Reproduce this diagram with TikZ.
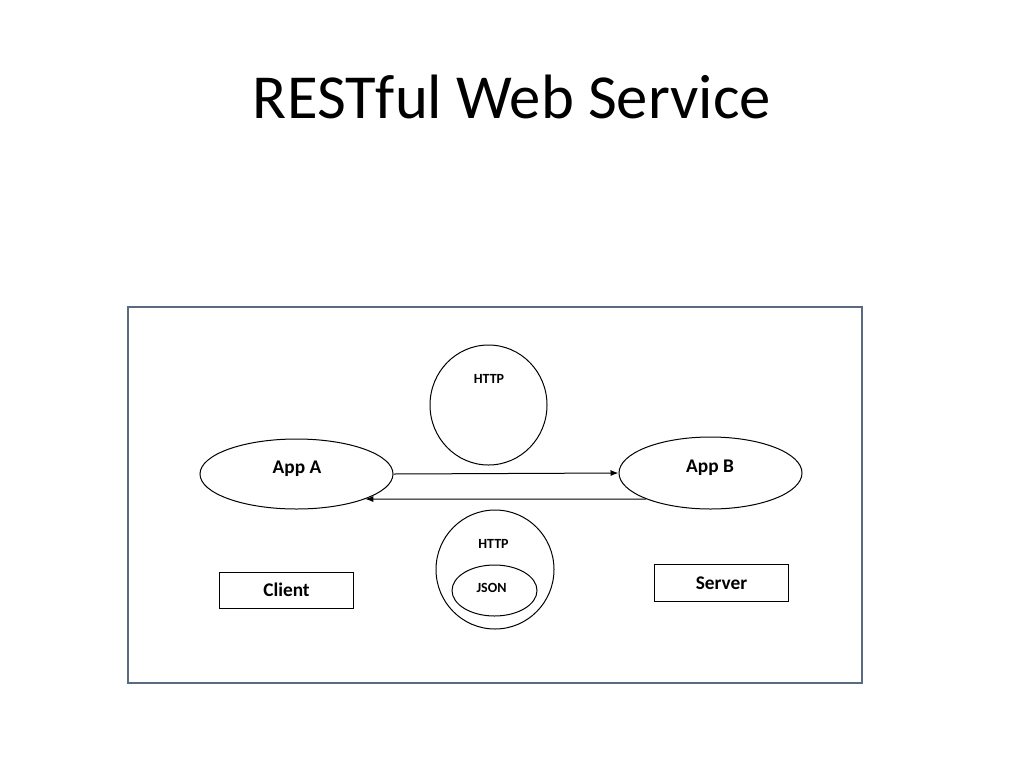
\documentclass[tikz,border=0pt]{standalone}
\usepackage{fontspec}
\setmainfont{Carlito}
\usetikzlibrary{shapes.geometric, arrows.meta}
\definecolor{framegray}{RGB}{90,106,128}

\begin{document}
\begin{tikzpicture}[x=0.75pt, y=-0.75pt,
    bubble/.style={draw, ellipse, line width=0.75pt, inner sep=0pt},
    tag/.style={font=\bfseries\fontsize{14.5}{17}\selectfont, anchor=base, inner sep=0pt},
    smalltag/.style={font=\bfseries\fontsize{10.5}{12}\selectfont, anchor=base, inner sep=0pt},
    role/.style={draw, rectangle, line width=0.75pt, minimum width=100.5pt,
        minimum height=27.5pt, inner sep=0pt},
    msg/.style={-{Latex[length=6pt,width=4.5pt]}, line width=0.75pt}]

  \useasboundingbox (0,0) rectangle (1024,768);

  % title
  \node[anchor=base, inner sep=0pt, font=\fontsize{47}{56}\selectfont] (title)
      at (512,118) {RESTful Web Service};

  % frame
  \draw[framegray, line width=1.1pt] (128,307) rectangle (862,683);

  % the two applications
  \node[bubble, minimum width=144.75pt, minimum height=52.5pt] (appA) at (296.5,474) {};
  \node[tag] (labA) at (297,473) {App A};
  \node[bubble, minimum width=137.25pt, minimum height=54pt] (appB) at (710.5,473) {};
  \node[tag] (labB) at (710,472) {App B};

  % request and response
  \draw[msg] (appA.east) -- (appB.west);
  \draw[msg] (appB.202) -- (appA.340);

  % protocol on top
  \node[bubble, minimum width=87.75pt, minimum height=90pt] (httpUp) at (488.5,405) {};
  \node[smalltag] (labUp) at (489,383) {HTTP};

  % protocol below, with the payload
  \node[bubble, minimum width=88.5pt, minimum height=89.25pt] (httpDown) at (495,569.5) {};
  \node[smalltag] (labDown) at (493.5,548) {HTTP};
  \node[bubble, minimum width=63.75pt, minimum height=38.25pt] (json) at (494.5,590.5) {};
  \node[smalltag] (labJson) at (491.5,592.5) {JSON};

  % roles
  \node[role] (client) at (286,590.5) {};
  \node[tag] (labClient) at (286.5,596) {Client};
  \node[role] (server) at (721,583) {};
  \node[tag] (labServer) at (721.5,589) {Server};

\end{tikzpicture}
\end{document}
